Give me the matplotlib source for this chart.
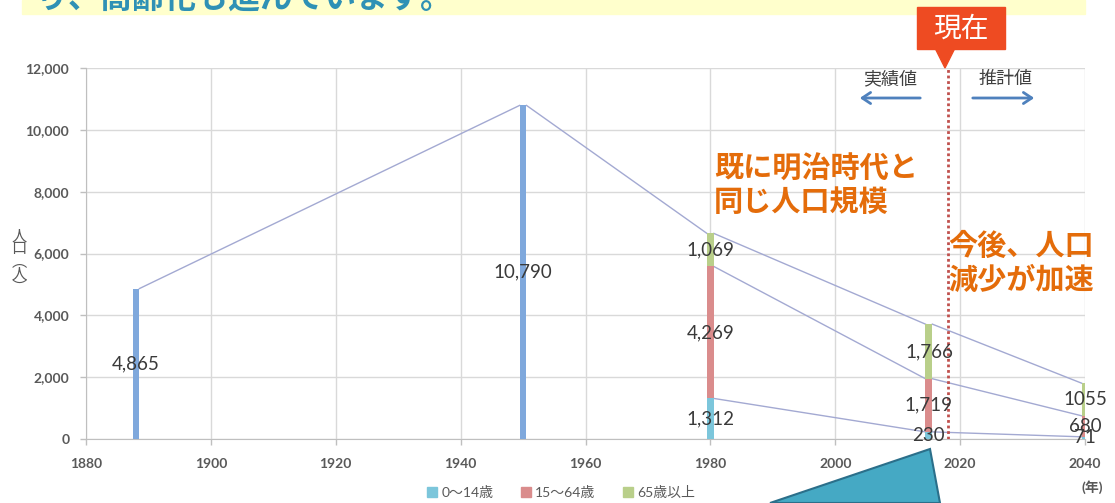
import matplotlib
matplotlib.use("Agg")
import matplotlib.pyplot as plt
from matplotlib.patches import Polygon, Rectangle, FancyArrowPatch
import numpy as np

plt.rcParams['font.family'] = ['Lato', 'Noto Sans CJK JP', 'DejaVu Sans']

# ---- data ----
years_total = [1888, 1950]
totals = [4865, 10790]
years_stack = [1980, 2015, 2040]
young = [1312, 230, 71]
working = [4269, 1719, 680]
elderly = [1069, 1766, 1055]
labels_young = ["1,312", "230", "71"]
labels_working = ["4,269", "1,719", "680"]
labels_elderly = ["1,069", "1,766", "1055"]
labels_total = ["4,865", "10,790"]
legend_labels = ["0～14歳", "15～64歳", "65歳以上"]
xticks = [1880, 1900, 1920, 1940, 1960, 1980, 2000, 2020, 2040]
yticks = [0, 2000, 4000, 6000, 8000, 10000, 12000]
now_year = 2018

W, H = 1115, 503
fig = plt.figure(figsize=(W / 100, H / 100), dpi=100)
fig.patch.set_facecolor("white")

def fx(px):
    return px / W

def fy(py):
    return 1 - py / H

ax_l, ax_r, ax_t, ax_b = 86, 1085, 68, 439
ax = fig.add_axes([fx(ax_l), fy(ax_b), fx(ax_r - ax_l), (ax_b - ax_t) / H])
ax.set_xlim(1880, 2040)
ax.set_ylim(0, 12000)

c_total = "#7FA8DC"
c_young = "#7CC6DB"
c_work = "#DA8C8C"
c_old = "#B9CF8A"
c_line = "#A3A9D2"
c_lbl = "#3A3A3A"
c_tick = "#595959"

bw = 1.1
ax.bar(years_total, totals, width=bw, color=c_total, zorder=3)
ax.bar(years_stack, young, width=bw, color=c_young, zorder=3)
ax.bar(years_stack, working, width=bw, bottom=young, color=c_work, zorder=3)
bot2 = [a + b for a, b in zip(young, working)]
ax.bar(years_stack, elderly, width=bw, bottom=bot2, color=c_old, zorder=3)

# series lines connecting bar tops
tops_all = totals + [a + b for a, b in zip(bot2, elderly)]
years_all = years_total + years_stack

def series_line(xs, ys):
    for i in range(len(xs) - 1):
        ax.plot([xs[i] + bw / 2, xs[i + 1] - bw / 2], [ys[i], ys[i + 1]],
                color=c_line, lw=1.0, zorder=2)

series_line(years_all, tops_all)
series_line(years_stack, bot2)
series_line(years_stack, young)

# data labels
lbl_kw = dict(ha="center", va="center", color=c_lbl, fontsize=13.5, zorder=5)
for x, v, t in zip(years_total, totals, labels_total):
    ax.text(x, v / 2, t, **lbl_kw)
for i, x in enumerate(years_stack):
    ax.text(x, young[i] / 2, labels_young[i], **lbl_kw)
    ax.text(x, young[i] + working[i] / 2, labels_working[i], **lbl_kw)
    ax.text(x, bot2[i] + elderly[i] / 2, labels_elderly[i], **lbl_kw)

# axes styling
ax.set_xticks(xticks)
ax.set_yticks(yticks)
ax.set_yticklabels([f"{v:,}" for v in yticks])
ax.tick_params(axis="both", colors="#BFBFBF", labelcolor=c_tick, labelsize=10,
               length=4, width=1)
ax.tick_params(axis="y", pad=8)
ax.tick_params(axis="x", pad=10)
for lab in ax.get_xticklabels() + ax.get_yticklabels():
    lab.set_fontweight("bold")
ax.grid(True, color="#D9D9D9", lw=1, zorder=0)
ax.set_axisbelow(True)
for s in ["top", "right"]:
    ax.spines[s].set_visible(False)
for s in ["left", "bottom"]:
    ax.spines[s].set_color("#BFBFBF")

# red dotted "now" line
ax.axvline(now_year, color="#C0504D", lw=2, ls=(0, (1, 1)), zorder=4)

# y label (vertical)
fig.text(fx(19), fy(262), "人\n口\n︵\n人\n︶", ha="center", va="center",
         fontsize=11, color=c_tick, linespacing=0.9)
# x label
fig.text(fx(1092), fy(487), "(年)", ha="center", va="center",
         fontsize=10, color=c_tick, fontweight="bold")

# legend
handles = [Rectangle((0, 0), 1, 1, color=c) for c in (c_young, c_work, c_old)]
leg = fig.legend(handles, legend_labels, ncol=3, loc="center",
                 bbox_to_anchor=(fx(561), fy(492)), frameon=False,
                 fontsize=10, handlelength=0.7, handleheight=0.7,
                 handletextpad=0.3, columnspacing=2.0)
for t in leg.get_texts():
    t.set_color(c_tick)

# top banner (cut off)
fig.patches.append(Rectangle((fx(22), fy(14)), fx(1085 - 22), 14 / H,
                             transform=fig.transFigure, color="#FFFFCC", zorder=0))
fig.text(fx(36), fy(8), "り、高齢化も進んでいます。", ha="left", va="baseline",
         fontsize=23, color="#2F91B5", fontweight="bold")

# 現在 callout
fig.patches.append(Rectangle((fx(917), fy(49)), fx(88), 42 / H,
                             transform=fig.transFigure, color="#EE4B22", zorder=5))
fig.patches.append(Polygon([(fx(935), fy(48)), (fx(955), fy(48)), (fx(945), fy(68))],
                           closed=True, transform=fig.transFigure,
                           color="#EE4B22", zorder=5))
fig.text(fx(961), fy(29), "現在", ha="center", va="center", fontsize=20,
         color="white", zorder=6)

# 実績値 / 推計値
fig.text(fx(890), fy(79), "実績値", ha="center", va="center", fontsize=13, color="#404040")
fig.text(fx(1006), fy(79), "推計値", ha="center", va="center", fontsize=13, color="#404040")
for (x0, x1) in [(923, 857), (970, 1037)]:
    fig.patches.append(FancyArrowPatch((fx(x0), fy(98)), (fx(x1), fy(98)),
                                       transform=fig.transFigure,
                                       arrowstyle="->,head_length=6,head_width=4",
                                       color="#4F81BD", lw=2))

# orange annotations
orange = "#E46C0A"
fig.text(fx(714), fy(185), "既に明治時代と\n同じ人口規模", ha="left", va="center",
         fontsize=21, color=orange, fontweight="bold", linespacing=1.25)
fig.text(fx(948), fy(263), "今後、人口\n減少が加速", ha="left", va="center",
         fontsize=21, color=orange, fontweight="bold", linespacing=1.25)

# teal callout shape at bottom
fig.patches.append(Polygon([(fx(770), fy(503)), (fx(930), fy(449)), (fx(940), fy(503))],
                           closed=True, transform=fig.transFigure,
                           facecolor="#45A9C4", edgecolor="#2B6F8A", lw=1.5, zorder=6))

fig.savefig("out.png", dpi=100)
